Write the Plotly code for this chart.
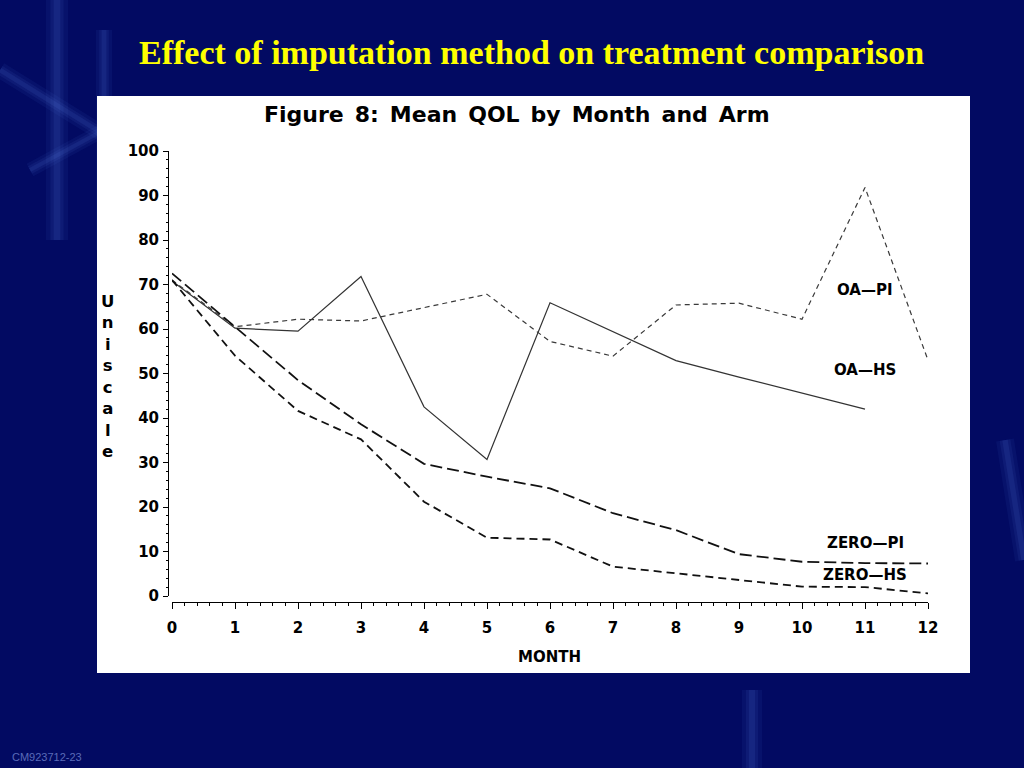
import plotly.graph_objects as go

months = [0, 1, 2, 3, 4, 5, 6, 7, 8, 9, 10, 11, 12]
oa_pi = [71.0, 60.5, 62.2, 61.8, 64.8, 67.8, 57.2, 53.9, 65.4, 65.8, 62.2, 91.8, 53.0]
oa_hs_months = [0, 1, 2, 3, 4, 5, 6, 7, 8, 9, 10, 11]
oa_hs = [70.8, 60.2, 59.5, 71.8, 42.5, 30.7, 65.9, 59.4, 52.9, 49.2, 45.6, 42.0]
zero_pi = [72.5, 60.5, 48.5, 38.6, 29.7, 26.8, 24.2, 18.6, 14.8, 9.4, 7.7, 7.4, 7.3]
zero_hs = [71.0, 54.0, 41.6, 35.2, 21.2, 13.1, 12.7, 6.6, 5.1, 3.6, 2.1, 2.0, 0.6]

series_labels = ["OA\u2014PI", "OA\u2014HS", "ZERO\u2014PI", "ZERO\u2014HS"]
label_x = [11, 11, 11, 11]
label_y = [68.8, 50.8, 11.9, 4.7]

y_ticks = [0, 10, 20, 30, 40, 50, 60, 70, 80, 90, 100]

W, H = 1024, 768
def px(x):
    return x / W
def py(y):
    return (H - y) / H

fig = go.Figure()
fig.add_trace(go.Scatter(x=months, y=oa_pi, mode="lines",
                         line=dict(color="#3a3a3a", width=1.2, dash="5px,4px"), name="OA-PI"))
fig.add_trace(go.Scatter(x=oa_hs_months, y=oa_hs, mode="lines",
                         line=dict(color="#333333", width=1.2), name="OA-HS"))
fig.add_trace(go.Scatter(x=months, y=zero_pi, mode="lines",
                         line=dict(color="#111111", width=1.8, dash="12px,5px"), name="ZERO-PI"))
fig.add_trace(go.Scatter(x=months, y=zero_hs, mode="lines",
                         line=dict(color="#111111", width=1.8, dash="8px,5px"), name="ZERO-HS"))

for t, lx, ly in zip(series_labels, label_x, label_y):
    fig.add_annotation(x=lx, y=ly, text=t, showarrow=False, xref="x", yref="y",
                       xanchor="center", yanchor="middle",
                       font=dict(family="DejaVu Sans", size=15, color="black", weight="bold"))

shapes = []
# soft slide glows
for (x0, y0, x1, y1, w) in [
    (57, 0, 57, 240, 22), (104, 30, 104, 250, 16),
    (0, 70, 100, 132, 16), (30, 170, 100, 132, 14),
    (1005, 440, 1024, 560, 18),
    (752, 690, 752, 768, 20),
]:
    for k, a in [(1.0, 0.06), (0.6, 0.07), (0.3, 0.09)]:
        shapes.append(dict(type="line", xref="paper", yref="paper", x0=px(x0), y0=py(y0),
                           x1=px(x1), y1=py(y1),
                           line=dict(color="rgba(110,150,255,%.2f)" % a, width=w * k), layer="below"))
# white panel
shapes.append(dict(type="rect", xref="paper", yref="paper", x0=px(97), x1=px(970),
                   y0=py(673), y1=py(96), fillcolor="white", line=dict(width=0), layer="below"))

fig.update_layout(
    template="none",
    width=W, height=H,
    margin=dict(l=0, r=0, t=0, b=0, pad=0, autoexpand=False),
    paper_bgcolor="#020a62",
    plot_bgcolor="rgba(0,0,0,0)",
    showlegend=False,
    shapes=shapes,
    xaxis=dict(
        automargin=False,
        domain=[px(172), px(928)], range=[0, 12], anchor="free", position=py(601.5),
        tickmode="array", tickvals=months, ticktext=[str(m) for m in months],
        showgrid=False, zeroline=False, showline=True, linecolor="black", linewidth=1,
        ticks="outside", ticklen=6, tickcolor="black", tickwidth=1,
        minor=dict(dtick=0.2, ticks="outside", ticklen=3, tickcolor="black", showgrid=False),
        tickfont=dict(family="DejaVu Sans", size=15, color="black", weight="bold"),
        ticklabelstandoff=6,
    ),
    yaxis=dict(
        automargin=False,
        domain=[py(596), py(151)], range=[0, 100], anchor="free", position=px(168),
        tickmode="array", tickvals=y_ticks, ticktext=[str(v) for v in y_ticks],
        showgrid=False, zeroline=False, showline=True, linecolor="black", linewidth=1,
        ticks="outside", ticklen=5, tickcolor="black", tickwidth=1,
        minor=dict(dtick=2, ticks="outside", ticklen=2.5, tickcolor="black", showgrid=False),
        tickfont=dict(family="DejaVu Sans", size=15, color="black", weight="bold"),
        ticklabelstandoff=1,
    ),
)

def note(x, y, text, font, xanchor="center"):
    fig.add_annotation(x=px(x), y=py(y), xref="paper", yref="paper", showarrow=False,
                       xanchor=xanchor, yanchor="middle", text=text, font=font)

note(531, 52, "Effect of imputation method on treatment comparison",
     dict(family="Liberation Serif", size=34, color="#ffff00", weight="bold"))
note(517, 114, "Figure\u20028:\u2002Mean\u2002QOL\u2002by\u2002Month\u2002and\u2002Arm",
     dict(family="DejaVu Sans", size=22, color="black", weight="bold"))
note(549, 657, "MONTH", dict(family="DejaVu Sans", size=15, color="black", weight="bold"))
note(107, 376, "<br>".join("Uniscale"),
     dict(family="DejaVu Sans", size=16.5, color="black", weight="bold"))
note(10, 757, "CM923712-23", dict(family="Liberation Sans", size=11, color="#5a6ab8"), xanchor="left")

post = (
    "var st=document.createElement('style');"
    "st.textContent='html,body{margin:0;padding:0;overflow:hidden;background:#020a62;}';"
    "document.head.appendChild(st);"
)

fig.write_html("out.html",
               config={"displayModeBar": False},
               post_script=post)
